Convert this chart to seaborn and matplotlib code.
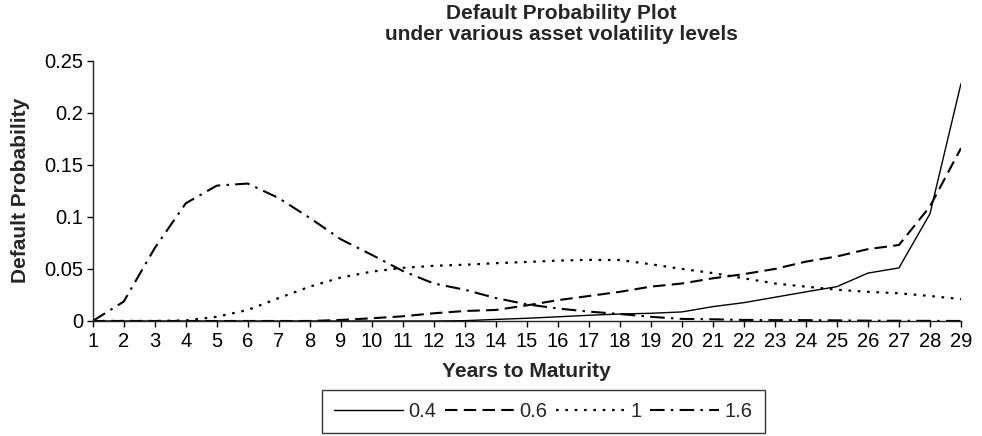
import matplotlib
matplotlib.use("Agg")
import matplotlib.pyplot as plt
import seaborn as sns
import pandas as pd

years = list(range(1, 30))

# default probability for each asset volatility level
vol_04 = [0, 0, 0, 0, 0, 0, 0, 0, 0, 0, 0, 0, 0.0003, 0.0015, 0.0026, 0.004,
          0.0055, 0.0067, 0.0074, 0.0087, 0.0138, 0.0176, 0.0228, 0.028, 0.033,
          0.046, 0.051, 0.103, 0.228]
vol_06 = [0, 0, 0, 0, 0, 0, 0, 0, 0.001, 0.0026, 0.0045, 0.0074, 0.0096, 0.0106,
          0.015, 0.020, 0.024, 0.028, 0.033, 0.036, 0.041, 0.045, 0.050, 0.057,
          0.062, 0.069, 0.073, 0.110, 0.166]
vol_1 = [0, 0, 0, 0.0005, 0.004, 0.0106, 0.022, 0.033, 0.0417, 0.0474, 0.051,
         0.053, 0.054, 0.0555, 0.0567, 0.058, 0.0587, 0.0585, 0.0545, 0.050,
         0.046, 0.041, 0.036, 0.033, 0.030, 0.028, 0.0266, 0.024, 0.021]
vol_16 = [0, 0.0186, 0.070, 0.113, 0.130, 0.132, 0.118, 0.099, 0.0785, 0.0635,
          0.048, 0.036, 0.030, 0.022, 0.016, 0.012, 0.009, 0.0067, 0.004, 0.002,
          0.0016, 0.001, 0.0008, 0.0008, 0.0006, 0.0003, 0.0002, 0.0001, 0]

labels = ["0.4", "0.6", "1", "1.6"]
y_ticks = [0, 0.05, 0.1, 0.15, 0.2, 0.25]

df = pd.DataFrame({"Years": years, "0.4": vol_04, "0.6": vol_06,
                   "1": vol_1, "1.6": vol_16})

sns.set_style("white")
plt.rcParams["font.family"] = ["Liberation Sans", "DejaVu Sans"]

styles = {
    "0.4": dict(linestyle="-", linewidth=1.0),
    "0.6": dict(linestyle=(0, (6, 3)), linewidth=1.5),
    "1": dict(linestyle=(0, (1.2, 3)), linewidth=1.6),
    "1.6": dict(linestyle=(0, (7, 3, 1.2, 3)), linewidth=1.5),
}

fig = plt.figure(figsize=(9.82, 4.36), dpi=100)
ax = fig.add_axes([0.0944, 0.2638, 0.8842, 0.597])

for lab in labels:
    sns.lineplot(data=df, x="Years", y=lab, ax=ax, color="black",
                 label=lab, **styles[lab])

ax.set_xlim(1, 29)
ax.set_ylim(0, 0.25)
ax.set_xticks(years)
ax.set_xticklabels([str(y) for y in years])
ax.set_yticks(y_ticks)
ax.set_yticklabels([f"{v:g}" for v in y_ticks])
ax.tick_params(axis="both", direction="out", length=4, width=1,
               labelsize=14.5, colors="black", left=True, bottom=True)
ax.tick_params(axis="x", pad=4)
ax.tick_params(axis="y", pad=3)
for side in ["top", "right"]:
    ax.spines[side].set_visible(False)
for side in ["left", "bottom"]:
    ax.spines[side].set_color("#222222")
    ax.spines[side].set_linewidth(1.0)

ax.set_xlabel("Years to Maturity", fontsize=15, fontweight="bold", labelpad=8)
ax.set_ylabel("Default Probability", fontsize=15, fontweight="bold", labelpad=10)

fig.text(0.572, 0.99, "Default Probability Plot\nunder various asset volatility levels",
         ha="center", va="top", fontsize=15, fontweight="bold", linespacing=1.1)

ax.get_legend().remove()
handles, texts = ax.get_legend_handles_labels()
leg = fig.legend(handles, texts, loc="upper left", ncol=4,
                 bbox_to_anchor=(322 / 982, 1 - 394 / 436, 443 / 982, 0.01),
                 mode="expand", fontsize=14.5, frameon=True, fancybox=False,
                 handlelength=3.4, handletextpad=0.3, columnspacing=0.3,
                 borderpad=0.6, borderaxespad=0)
leg.get_frame().set_edgecolor("black")
leg.get_frame().set_linewidth(1.0)

fig.savefig("out.png", dpi=100)
